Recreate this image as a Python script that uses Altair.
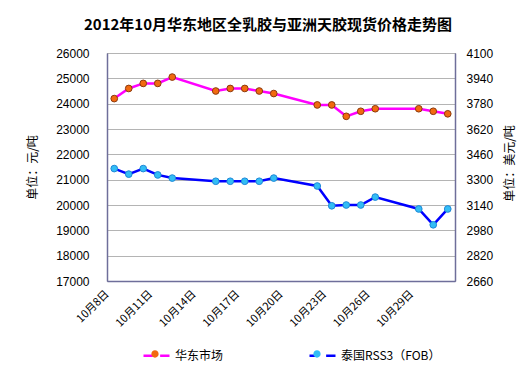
import altair as alt
import pandas as pd

# ---- data ----
dates = ["2012-10-08", "2012-10-09", "2012-10-10", "2012-10-11", "2012-10-12",
         "2012-10-15", "2012-10-16", "2012-10-17", "2012-10-18", "2012-10-19",
         "2012-10-22", "2012-10-23", "2012-10-24", "2012-10-25", "2012-10-26",
         "2012-10-29", "2012-10-30", "2012-10-31"]
east_china = [24200, 24600, 24800, 24800, 25050, 24500, 24600, 24600, 24500, 24400,
              23950, 23950, 23500, 23700, 23800, 23800, 23700, 23600]
thai_rss3 = [3370, 3335, 3370, 3330, 3310, 3290, 3290, 3290, 3290, 3310,
             3260, 3135, 3140, 3140, 3190, 3115, 3015, 3115]
series_names = ["华东市场", "泰国RSS3（FOB）"]
left_ticks = list(range(17000, 26001, 1000))
right_ticks = list(range(2660, 4101, 160))
x_tick_days = [8, 11, 14, 17, 20, 23, 26, 29]

rows = []
for d, v in zip(dates, east_china):
    rows.append({"date": d + "T12:00:00", "series": series_names[0], "value": v})
for d, v in zip(dates, thai_rss3):
    rows.append({"date": d + "T12:00:00", "series": series_names[1], "value": v})
df = pd.DataFrame(rows)

# ---- styles ----
AXIS_COL = "#6E6E9A"
GRID_COL = "#B4B4B4"
LINE_COLS = ["#FF00FF", "#0000FF"]
FILL_COLS = ["#F26A0F", "#33BDF5"]
LINE_SYM = "M-1,0H-0.28M0.28,0H1"
DOT_SYM = "M-1,0H1M0.28,0A0.28,0.28,0,1,1,-0.28,0A0.28,0.28,0,1,1,0.28,0"

common_legend = dict(
    title=None, orient="none", legendX=35, legendY=288, direction="horizontal",
    symbolSize=676, labelFont="Noto Sans CJK SC", labelFontSize=12,
    values=series_names,
)
line_legend = alt.Legend(symbolType=LINE_SYM, symbolStrokeWidth=2.5,
                         labelColor="#000000", labelOffset=4, columnPadding=80,
                         **common_legend)
dot_legend = alt.Legend(symbolType=DOT_SYM, symbolStrokeWidth=0,
                        symbolStrokeColor="transparent", symbolOpacity=1,
                        labelExpr="''", labelOffset=0, columnPadding=136,
                        **common_legend)

x_enc = alt.X(
    "date:T",
    scale=alt.Scale(domain=[alt.DateTime(year=2012, month=10, date=8),
                            alt.DateTime(year=2012, month=11, date=1)]),
    axis=alt.Axis(
        values=[alt.DateTime(year=2012, month=10, date=d) for d in x_tick_days],
        labelExpr="(month(datum.value)+1) + '月' + date(datum.value) + '日'",
        title=None, grid=False, domainColor=AXIS_COL, domainWidth=1.5,
        tickSize=0, labelAngle=-45, labelAlign="right", labelBaseline="middle",
        labelFont="Noto Sans CJK SC", labelFontSize=11, labelColor="#000000",
        labelPadding=11,
    ),
)

stroke_enc = alt.Stroke("series:N", scale=alt.Scale(domain=series_names, range=LINE_COLS),
                        legend=line_legend)
fill_enc = alt.Fill("series:N",
                    scale=alt.Scale(domain=series_names + ["-"], range=FILL_COLS + ["#FFFFFF"]),
                    legend=dot_legend)

left_y = alt.Y(
    "value:Q",
    scale=alt.Scale(domain=[17000, 26000], nice=False, zero=False),
    axis=alt.Axis(
        values=left_ticks, format="d", title="单位：元/吨", grid=True,
        gridColor=GRID_COL, domainColor=AXIS_COL, domainWidth=1.5, tickSize=0,
        labelPadding=18, labelFont="Liberation Sans", labelFontSize=12,
        labelColor="#000000", titleFont="Noto Sans CJK SC", titleFontSize=12,
        titleFontWeight="normal", titleColor="#000000",
        titleAngle=270, titleX=-75, titleY=114, titleAlign="center",
        titleBaseline="middle",
    ),
)
right_y = alt.Y(
    "value:Q",
    scale=alt.Scale(domain=[2660, 4100], nice=False, zero=False),
    axis=alt.Axis(
        orient="right", values=right_ticks, format="d", title="单位：美元/吨",
        grid=False, domainColor=AXIS_COL, domainWidth=1.5, tickSize=0,
        labelPadding=11, labelFont="Liberation Sans", labelFontSize=12,
        labelColor="#000000", titleFont="Noto Sans CJK SC", titleFontSize=12,
        titleFontWeight="normal", titleColor="#000000",
        titleAngle=270, titleX=54, titleY=110, titleAlign="center",
        titleBaseline="middle",
    ),
)

base = alt.Chart(df)

east = base.transform_filter(alt.datum.series == series_names[0])
left_line = east.mark_line(strokeWidth=2.5).encode(x=x_enc, y=left_y, stroke=stroke_enc)
left_pts = east.mark_point(filled=True, size=45, opacity=1, strokeWidth=1).encode(
    x=x_enc, y=left_y, fill=fill_enc, stroke=alt.value("#8B3A0F"))

thai = base.transform_filter(alt.datum.series == series_names[1])
right_line = thai.mark_line(strokeWidth=2.5).encode(x=x_enc, y=right_y, stroke=stroke_enc)
right_pts = thai.mark_point(filled=True, size=45, opacity=1, strokeWidth=1).encode(
    x=x_enc, y=right_y, fill=fill_enc, stroke=alt.value("#1E88D8"))

left = alt.layer(left_line, left_pts)
right = alt.layer(right_line, right_pts)

chart = alt.layer(left, right).resolve_scale(y="independent").properties(
    width=348, height=228,
    autosize=alt.AutoSizeParams(type="none"),
    padding={"left": 99, "top": 45, "right": 65, "bottom": 90},
    title=alt.TitleParams(
        "2012年10月华东地区全乳胶与亚洲天胶现货价格走势图",
        font="Noto Sans CJK SC", fontSize=15, fontWeight="bold", color="#000000",
        anchor="middle", frame="group", offset=14, dx=-13,
    ),
).configure_view(stroke="#808080", strokeWidth=1)

chart.save("out.html", embed_options={"renderer": "svg", "actions": False})
